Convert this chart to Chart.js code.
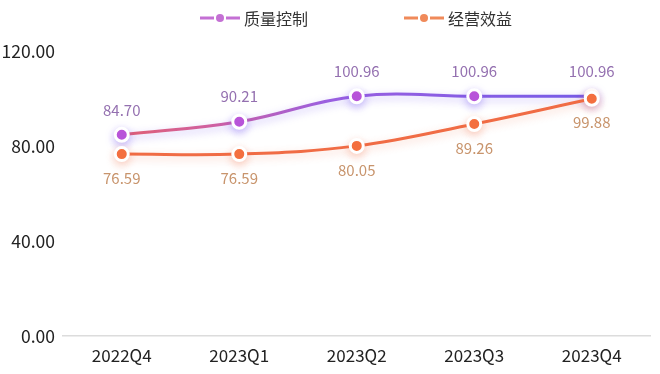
<!DOCTYPE html>
<html>
<head>
<meta charset="utf-8">
<script src="https://cdn.jsdelivr.net/npm/chart.js@4.4.0/dist/chart.umd.min.js"></script>
<style>
  html, body { margin: 0; padding: 0; background: #fff; }
  #wrap { width: 660px; height: 374px; }
</style>
</head>
<body>
<div id="wrap"><canvas id="lineChart"></canvas></div>
<script>
var quarters = ['2022Q4', '2023Q1', '2023Q2', '2023Q3', '2023Q4'];
var quality = [84.70, 90.21, 100.96, 100.96, 100.96];
var operating = [76.59, 76.59, 80.05, 89.26, 99.88];
var yTicks = [0, 40, 80, 120];
var seriesNames = ['质量控制', '经营效益'];

var FONT = '"Noto Sans CJK SC", "Noto Sans", sans-serif';

// gradient for the purple line (reddish on the left, blue-violet on the right)
function purpleLine(c) {
  var area = c.chart.chartArea;
  if (!area) return '#9a5ee0';
  var g = c.chart.ctx.createLinearGradient(area.left, 0, area.right, 0);
  g.addColorStop(0, '#ea5f55');
  g.addColorStop(0.25, '#d060a0');
  g.addColorStop(0.45, '#9a5fe0');
  g.addColorStop(1, '#6e5ae8');
  return g;
}

// soft glow under lines and points
var shadowPlugin = {
  id: 'shadow',
  beforeDatasetDraw: function (chart, args) {
    var ctx = chart.ctx;
    ctx.save();
    ctx.shadowColor = args.index === 0 ? 'rgba(120, 90, 240, 0.4)' : 'rgba(240, 110, 70, 0.3)';
    ctx.shadowBlur = 8;
    ctx.shadowOffsetY = 3;
  },
  afterDatasetDraw: function (chart) {
    chart.ctx.restore();
  }
};

// value labels: above for the first series, below for the second
var labelPlugin = {
  id: 'valueLabels',
  afterDatasetsDraw: function (chart) {
    var ctx = chart.ctx;
    ctx.save();
    ctx.font = '15px ' + FONT;
    ctx.textAlign = 'center';
    ctx.textBaseline = 'middle';
    chart.data.datasets.forEach(function (ds, i) {
      var meta = chart.getDatasetMeta(i);
      meta.data.forEach(function (pt, j) {
        var above = i === 0;
        ctx.fillStyle = above ? '#9470b0' : '#c8946c';
        ctx.fillText(ds.data[j].toFixed(2), pt.x, pt.y + (above ? -25 : 24));
      });
    });
    ctx.restore();
  }
};

// legend drawn by hand: line - dot - line, then name
var legendPlugin = {
  id: 'topLegend',
  afterDraw: function (chart) {
    var ctx = chart.ctx;
    var items = [
      { x: 200, color: '#c470d4', text: seriesNames[0] },
      { x: 404, color: '#f08a5a', text: seriesNames[1] }
    ];
    ctx.save();
    items.forEach(function (it) {
      var y = 18;
      ctx.strokeStyle = it.color;
      ctx.lineWidth = 3;
      ctx.beginPath();
      ctx.moveTo(it.x, y); ctx.lineTo(it.x + 14, y);
      ctx.moveTo(it.x + 26, y); ctx.lineTo(it.x + 40, y);
      ctx.stroke();
      ctx.fillStyle = it.color;
      ctx.beginPath();
      ctx.arc(it.x + 20, y, 4, 0, Math.PI * 2);
      ctx.fill();
      ctx.fillStyle = '#333';
      ctx.font = '16px ' + FONT;
      ctx.textBaseline = 'middle';
      ctx.fillText(it.text, it.x + 44, y + 1);
    });
    ctx.restore();
  }
};

var ctx = document.getElementById('lineChart').getContext('2d');
new Chart(ctx, {
  type: 'line',
  data: {
    labels: quarters,
    datasets: [{
      label: seriesNames[0],
      data: quality,
      order: 2,
      borderColor: purpleLine,
      borderWidth: 3,
      tension: 0.4,
      pointRadius: 6.5,
      pointBackgroundColor: '#c254d6',
      pointBorderColor: '#fff',
      pointBorderWidth: 3
    }, {
      label: seriesNames[1],
      data: operating,
      order: 1,
      borderColor: '#f06c45',
      borderWidth: 3,
      tension: 0.4,
      pointRadius: 6.5,
      pointBackgroundColor: '#f4703f',
      pointBorderColor: '#fff',
      pointBorderWidth: 3
    }]
  },
  options: {
    responsive: true,
    maintainAspectRatio: false,
    animation: false,
    layout: { padding: { top: 51, right: 8, bottom: 0, left: 0 } },
    plugins: {
      legend: { display: false },
      tooltip: { enabled: false }
    },
    scales: {
      x: {
        offset: true,
        grid: { display: false, drawTicks: false },
        border: { color: '#dcdcdc', width: 1.5 },
        afterFit: function (scale) { scale.height = 38; },
        ticks: {
          color: '#222',
          padding: 9,
          font: { size: 17, family: FONT }
        }
      },
      y: {
        min: yTicks[0],
        max: yTicks[yTicks.length - 1],
        afterFit: function (scale) { scale.width = 63; },
        afterBuildTicks: function (scale) {
          scale.ticks = yTicks.map(function (v) { return { value: v }; });
        },
        grid: { display: false, drawTicks: false },
        border: { display: false },
        ticks: {
          color: '#222',
          padding: 8,
          font: { size: 17.5, family: FONT },
          callback: function (v) { return Number(v).toFixed(2); }
        }
      }
    }
  },
  plugins: [shadowPlugin, labelPlugin, legendPlugin]
});
</script>
</body>
</html>
